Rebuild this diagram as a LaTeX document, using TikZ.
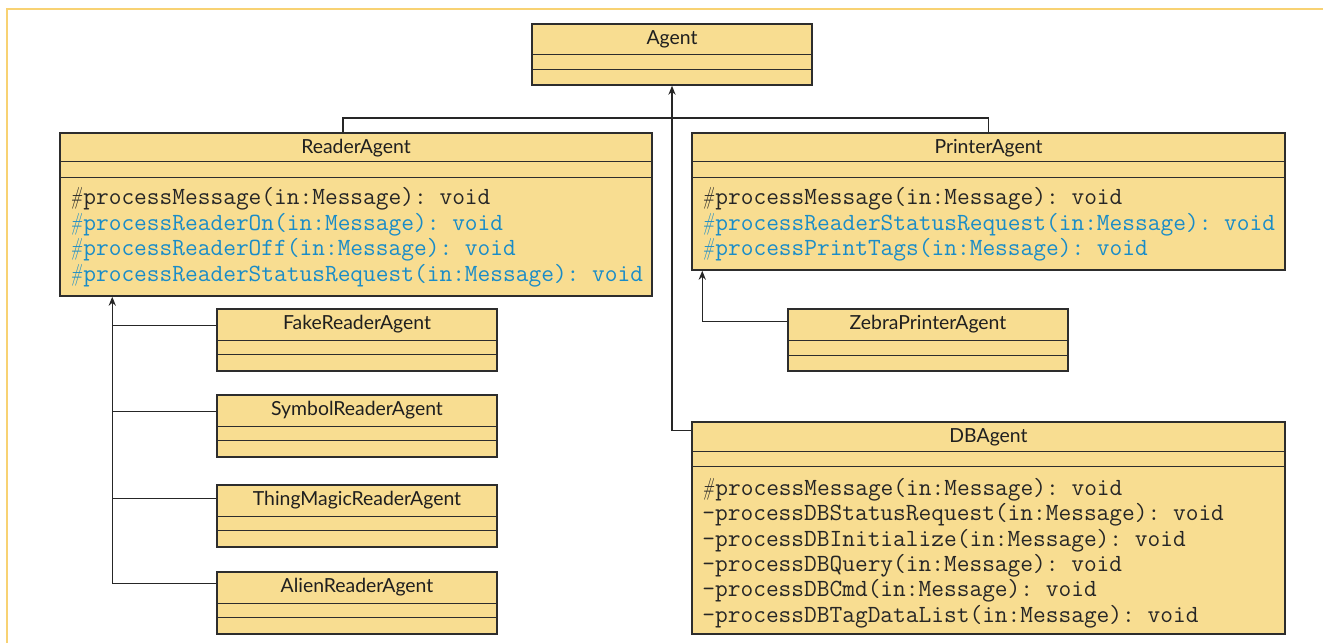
\documentclass[tikz,border=0pt]{standalone}
\usepackage{fontspec}
\usepackage{graphicx}
\newfontfamily\titlefont{Lato}
\usetikzlibrary{arrows.meta,fit,calc}

\definecolor{boxfill}{RGB}{248,221,145}
\definecolor{boxline}{RGB}{45,45,45}
\definecolor{methblue}{RGB}{25,140,200}
\definecolor{framecol}{RGB}{248,210,115}

% protected-visibility mark: a narrow slanted hash, one character cell wide
\newcommand\prot{\makebox[0.525em][l]{\scalebox{0.6}[1]{\rmfamily\itshape\#}}}

% class box: name, x1, y1, x2, y2, first divider, second divider, title
\newcommand\umlclass[8]{%
  \node[classbox, fit={(#2,#3) (#4,#5)}] (#1) {};
  \draw[rule] ([yshift=-#6*0.5pt]#1.north west) -- ([yshift=-#6*0.5pt]#1.north east);
  \draw[rule] ([yshift=-#7*0.5pt]#1.north west) -- ([yshift=-#7*0.5pt]#1.north east);
  \node[titletext] (#1-title) at ([yshift=-21.5*0.5pt]#1.north) {#8};
}

\begin{document}
\begin{tikzpicture}[x=0.5pt, y=-0.5pt,
  classbox/.style={draw=boxline, fill=boxfill, line width=0.75pt, inner sep=0pt},
  rule/.style={draw=boxline, line width=0.75pt},
  titletext/.style={anchor=base, inner sep=0pt, font=\titlefont\fontsize{9.7}{11}\selectfont, text=black!88},
  meth/.style={anchor=base west, inner sep=0pt, font=\ttfamily\frenchspacing\fontsize{12.35}{14}\selectfont, text=black!85},
  blue/.style={text=methblue},
  conn/.style={draw=black!85, line width=0.75pt},
  inh/.style={conn, -{Stealth[length=4.5pt,width=3.6pt]}}]

\useasboundingbox (0,0) rectangle (1323,643);
\fill[white] (0,0) rectangle (1323,643);

% frame
\draw[framecol, line width=0.9pt] (7,643) -- (7,9) -- (1323,9);

% classes
\umlclass{agent}{532}{24}{812}{85}{31}{46}{Agent}
\umlclass{ra}{60}{133}{652}{296}{29}{45}{ReaderAgent}
\umlclass{pa}{692}{133}{1285}{270}{29}{45}{PrinterAgent}
\umlclass{zp}{788}{309}{1068}{371}{32}{47}{ZebraPrinterAgent}
\umlclass{db}{692}{422}{1285}{634}{30}{45}{DBAgent}
\umlclass{fake}{217}{309}{497}{371}{32}{46}{FakeReaderAgent}
\umlclass{sym}{217}{395}{497}{457}{32}{46}{SymbolReaderAgent}
\umlclass{tmr}{217}{485}{497}{547}{32}{46}{ThingMagicReaderAgent}
\umlclass{alien}{217}{572}{497}{634}{32}{46}{AlienReaderAgent}

% operations
\node[meth] (ra-m1) at (70,204.5) {\prot processMessage(in:Message): void};
\node[meth, blue] (ra-m2) at (70,230) {\prot processReaderOn(in:Message): void};
\node[meth, blue] (ra-m3) at (70,255.5) {\prot processReaderOff(in:Message): void};
\node[meth, blue] (ra-m4) at (70,281) {\prot processReaderStatusRequest(in:Message): void};

\node[meth] (pa-m1) at (702,204.5) {\prot processMessage(in:Message): void};
\node[meth, blue] (pa-m2) at (702,230) {\prot processReaderStatusRequest(in:Message): void};
\node[meth, blue] (pa-m3) at (702,255.5) {\prot processPrintTags(in:Message): void};

\node[meth] (db-m1) at (702,495) {\prot processMessage(in:Message): void};
\node[meth] (db-m2) at (702,520.5) {-processDBStatusRequest(in:Message): void};
\node[meth] (db-m3) at (702,546) {-processDBInitialize(in:Message): void};
\node[meth] (db-m4) at (702,571) {-processDBQuery(in:Message): void};
\node[meth] (db-m5) at (702,596.5) {-processDBCmd(in:Message): void};
\node[meth] (db-m6) at (702,622) {-processDBTagDataList(in:Message): void};

% generalisation to Agent
\coordinate (ra-up) at ([xshift=-13*0.5pt]ra.north);
\coordinate (join) at ($(agent.south)+(0,32)$);
\draw[conn] (ra-up) |- (join) -| (pa.north);
\coordinate (db-in) at ([yshift=-9*0.5pt]db.north west);
\draw[inh] (db-in) -| (agent.south);

% generalisation to PrinterAgent
\coordinate (pa-in) at ([xshift=11*0.5pt]pa.south west);
\draw[inh] ([yshift=-13*0.5pt]zp.north west) -| (pa-in);

% generalisation to ReaderAgent
\coordinate (ra-in) at ([xshift=53*0.5pt]ra.south west);
\coordinate (alien-out) at ([yshift=-12*0.5pt]alien.north west);
\draw[inh] (alien-out) -| (ra-in);
\coordinate (fake-out) at ([yshift=-17*0.5pt]fake.north west);
\coordinate (sym-out) at ([yshift=-17*0.5pt]sym.north west);
\coordinate (tmr-out) at ([yshift=-14*0.5pt]tmr.north west);
\draw[conn] (fake-out) -- (fake-out -| ra-in);
\draw[conn] (sym-out) -- (sym-out -| ra-in);
\draw[conn] (tmr-out) -- (tmr-out -| ra-in);
\end{tikzpicture}
\end{document}
